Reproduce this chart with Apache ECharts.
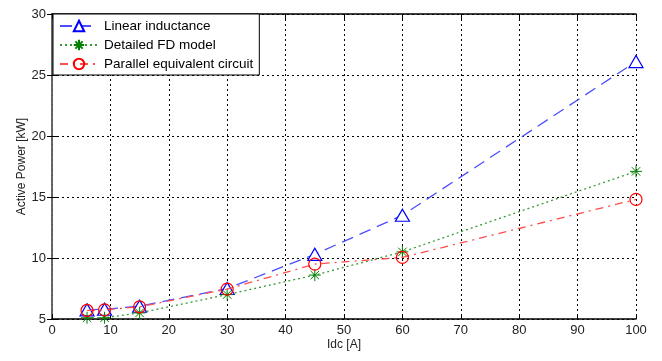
<!DOCTYPE html>
<html>
<head>
<meta charset="utf-8">
<script src="https://cdn.jsdelivr.net/npm/echarts@6/dist/echarts.min.js"></script>
<style>
  html, body { margin: 0; padding: 0; background: #fff; }
  #chart { width: 662px; height: 361px; }
</style>
</head>
<body>
<div id="chart"></div>
<script>
// DC current operating points [A]
const idc = [6, 9, 15, 30, 45, 60, 100];
// Active power [kW] for each model
const linearInductance = [5.75, 5.8, 6.05, 7.5, 10.3, 13.5, 26.1];
const detailedFD = [5.1, 5.1, 5.5, 7.0, 8.6, 10.5, 17.1];
const parallelEquivalent = [5.7, 5.75, 6.0, 7.45, 9.5, 10.05, 14.8];
// Axis ticks
const xTicks = [0, 10, 20, 30, 40, 50, 60, 70, 80, 90, 100];
const yTicks = [5, 10, 15, 20, 25, 30];

const seriesNames = ['Linear inductance', 'Detailed FD model', 'Parallel equivalent circuit'];

const pairs = ys => idc.map((x, i) => [x, ys[i]]);
const font = 'Liberation Sans, Arial, sans-serif';
const asterisk = 'path://M0,-10L0,10M-10,0L10,0M-7,-7L7,7M-7,7L7,-7';

const chart = echarts.init(document.getElementById('chart'), null, { renderer: 'canvas' });

const baseX = {
  type: 'value', min: xTicks[0], max: xTicks[xTicks.length - 1], interval: 10,
  axisTick: { inside: true, length: 5, lineStyle: { color: '#000' } }
};
const baseY = {
  type: 'value', min: yTicks[0], max: yTicks[yTicks.length - 1], interval: 5,
  axisTick: { inside: true, length: 5, lineStyle: { color: '#000' } }
};

chart.setOption({
  animation: false,
  backgroundColor: '#fff',
  grid: { left: 52, right: 26, top: 14, bottom: 42 },
  legend: {
    orient: 'vertical',
    left: 53, top: 14,
    backgroundColor: '#fff',
    borderColor: '#000', borderWidth: 1, borderRadius: 0,
    padding: [5, 6, 4, 6],
    itemGap: 5,
    itemWidth: 38, itemHeight: 13,
    textStyle: { fontFamily: font, fontSize: 13.5, color: '#000', padding: [0, 0, 0, 1] },
    data: seriesNames
  },
  xAxis: [
    Object.assign({}, baseX, {
      position: 'bottom',
      name: 'Idc [A]', nameLocation: 'middle', nameGap: 20, nameMoveOverlap: false,
      nameTextStyle: { fontFamily: font, fontSize: 12, color: '#222' },
      axisLine: { lineStyle: { color: '#000', width: 1.5 } },
      axisLabel: { fontFamily: font, fontSize: 13, color: '#222', margin: 5 },
      splitLine: { show: true, lineStyle: { color: '#000', type: [2, 3], width: 1 } }
    }),
    Object.assign({}, baseX, {
      position: 'top',
      axisLine: { lineStyle: { color: '#000', width: 1.5 } },
      axisLabel: { show: false },
      splitLine: { show: false }
    })
  ],
  yAxis: [
    Object.assign({}, baseY, {
      position: 'left',
      name: 'Active Power [kW]', nameLocation: 'middle', nameGap: 24, nameMoveOverlap: false,
      nameTextStyle: { fontFamily: font, fontSize: 12, color: '#222' },
      axisLine: { lineStyle: { color: '#888', width: 1.5 } },
      axisLabel: { fontFamily: font, fontSize: 13, color: '#222', margin: 6 },
      splitLine: { show: true, lineStyle: { color: '#000', type: [2, 3], width: 1 } }
    }),
    Object.assign({}, baseY, {
      position: 'right',
      axisLine: { lineStyle: { color: '#555', width: 1.5 } },
      axisLabel: { show: false },
      splitLine: { show: false }
    })
  ],
  series: [
    {
      name: seriesNames[0], type: 'line', data: pairs(linearInductance),
      symbol: 'triangle', symbolSize: [14, 12],
      itemStyle: { color: '#fff', borderColor: '#0000ff', borderWidth: 1.2, opacity: 1 },
      lineStyle: { color: '#4d4dff', width: 1.3, type: [12, 7] },
      z: 3
    },
    {
      name: seriesNames[1], type: 'line', data: pairs(detailedFD),
      symbol: asterisk, symbolSize: 12,
      itemStyle: { color: 'rgba(0,0,0,0)', borderColor: '#008000', borderWidth: 1 },
      lineStyle: { color: '#3a9a3a', width: 1.3, type: [2, 3] },
      z: 4
    },
    {
      name: seriesNames[2], type: 'line', data: pairs(parallelEquivalent),
      symbol: 'circle', symbolSize: 12,
      itemStyle: { color: 'rgba(0,0,0,0)', borderColor: '#ff0000', borderWidth: 1.2 },
      lineStyle: { color: '#ff4d4d', width: 1.3, type: [8, 5, 2, 5] },
      z: 5
    }
  ]
});
</script>
</body>
</html>
